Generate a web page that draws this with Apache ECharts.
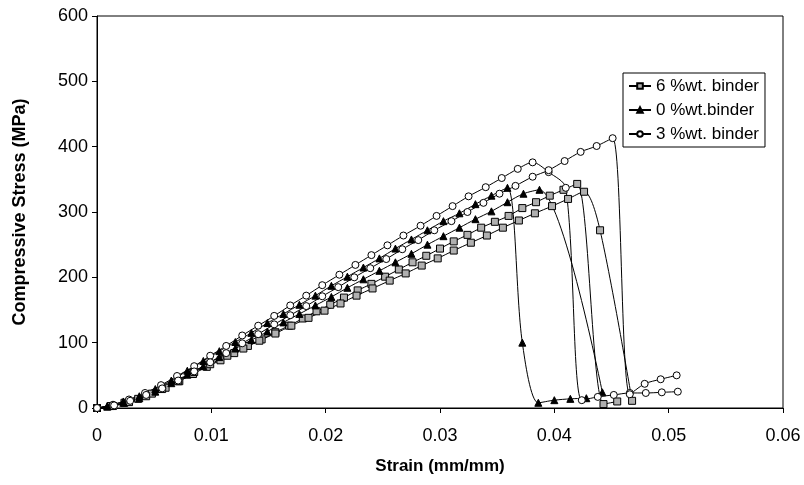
<!DOCTYPE html>
<html>
<head>
<meta charset="utf-8">
<script src="https://cdn.jsdelivr.net/npm/echarts@6/dist/echarts.min.js"></script>
<style>
  html, body { margin: 0; padding: 0; background: #fff; }
  #chart { width: 804px; height: 485px; }
</style>
</head>
<body>
<div id="chart"></div>
<script>
// 6 %wt. binder, two specimens (squares)
const sq1Strain = [0, 0.0012, 0.0024, 0.0036, 0.0048, 0.0060, 0.0072, 0.0084, 0.0096, 0.0108, 0.0120, 0.0132, 0.0144, 0.0156, 0.0168, 0.0180, 0.0192, 0.0204, 0.0216, 0.0228, 0.0240, 0.0252, 0.0264, 0.0276, 0.0288, 0.0300, 0.0312, 0.0324, 0.0336, 0.0348, 0.0360, 0.0372, 0.0384, 0.0396, 0.0408, 0.0420, 0.0443, 0.0455]
const sq1Stress = [0, 3, 8, 14, 22, 31, 41, 52, 63, 73, 84, 95, 105, 116, 126, 137, 148, 158, 169, 180, 190, 201, 212, 223, 233, 244, 255, 265, 276, 285, 294, 306, 315, 325, 334, 343, 6, 10]
const sq2Strain = [0, 0.0014, 0.0028, 0.0043, 0.0057, 0.0071, 0.0085, 0.0099, 0.0114, 0.0128, 0.0142, 0.0156, 0.0170, 0.0185, 0.0199, 0.0213, 0.0227, 0.0241, 0.0256, 0.0270, 0.0284, 0.0298, 0.0312, 0.0327, 0.0341, 0.0355, 0.0369, 0.0383, 0.0398, 0.0412, 0.0426, 0.0440, 0.0468]
const sq2Stress = [0, 3, 9, 18, 29, 41, 55, 67, 80, 91, 103, 114, 126, 138, 149, 160, 172, 183, 195, 206, 218, 229, 241, 253, 264, 276, 287, 298, 309, 320, 331, 272, 11]

// 0 %wt.binder (triangles)
const tr1Strain = [0, 0.0009, 0.0023, 0.0037, 0.0051, 0.0065, 0.0079, 0.0093, 0.0107, 0.0121, 0.0135, 0.0149, 0.0163, 0.0177, 0.0191, 0.0205, 0.0219, 0.0233, 0.0247, 0.0261, 0.0275, 0.0289, 0.0303, 0.0317, 0.0331, 0.0345, 0.0359, 0.0372, 0.0386, 0.0400, 0.0414, 0.0428]
const tr1Stress = [0, 3, 10, 18, 29, 42, 57, 72, 87, 101, 115, 130, 144, 158, 172, 187, 201, 215, 229, 244, 258, 272, 286, 298, 312, 325, 337, 100, 8, 12, 14, 15]
const tr2Strain = [0, 0.0009, 0.0023, 0.0037, 0.0051, 0.0065, 0.0079, 0.0093, 0.0107, 0.0121, 0.0135, 0.0149, 0.0163, 0.0177, 0.0191, 0.0205, 0.0219, 0.0233, 0.0247, 0.0261, 0.0275, 0.0289, 0.0303, 0.0317, 0.0331, 0.0345, 0.0359, 0.0373, 0.0387, 0.0442]
const tr2Stress = [0, 2, 8, 15, 25, 38, 51, 64, 78, 91, 104, 117, 131, 144, 157, 170, 184, 197, 210, 223, 236, 250, 263, 276, 289, 301, 315, 328, 334, 24]

// 3 %wt. binder (circles)
const ci1Strain = [0, 0.0014, 0.0028, 0.0042, 0.0056, 0.0070, 0.0085, 0.0099, 0.0113, 0.0127, 0.0141, 0.0155, 0.0169, 0.0183, 0.0197, 0.0212, 0.0226, 0.0240, 0.0254, 0.0268, 0.0283, 0.0297, 0.0311, 0.0325, 0.0340, 0.0354, 0.0368, 0.0381, 0.0395, 0.0410, 0.0424, 0.0438, 0.0452, 0.0466, 0.0480, 0.0494, 0.0508]
const ci1Stress = [0, 5, 13, 23, 35, 49, 64, 80, 95, 111, 126, 141, 157, 172, 188, 204, 219, 234, 249, 264, 279, 294, 309, 324, 338, 352, 366, 376, 361, 337, 12, 17, 20, 23, 23, 24, 25]
const ci2Strain = [0, 0.0015, 0.0029, 0.0043, 0.0057, 0.0071, 0.0085, 0.0099, 0.0113, 0.0127, 0.0141, 0.0155, 0.0169, 0.0183, 0.0197, 0.0211, 0.0225, 0.0239, 0.0253, 0.0267, 0.0281, 0.0295, 0.0310, 0.0324, 0.0338, 0.0352, 0.0366, 0.0381, 0.0395, 0.0409, 0.0423, 0.0437, 0.0451, 0.0466, 0.0479, 0.0493, 0.0507]
const ci2Stress = [0, 4, 11, 20, 30, 42, 56, 70, 84, 99, 113, 128, 142, 156, 171, 185, 200, 214, 228, 243, 257, 272, 286, 300, 314, 328, 340, 354, 364, 378, 392, 401, 413, 21, 37, 44, 50]

const legendNames = ['6 %wt. binder', '0 %wt.binder', '3 %wt. binder']

const FONT = 'Liberation Sans, Arial, sans-serif'

function zip(xs, ys) {
  return xs.map((x, i) => [x, ys[i]])
}

function curve(name, xs, ys, symbol, fill) {
  return {
    name: name,
    type: 'line',
    data: zip(xs, ys),
    smooth: 0.3,
    symbol: symbol,
    symbolSize: 7,
    lineStyle: { color: '#000', width: 1 },
    itemStyle: { color: fill, borderColor: '#000', borderWidth: 1 },
    emphasis: { disabled: true },
    animation: false
  }
}

const chart = echarts.init(document.getElementById('chart'))
chart.setOption({
  backgroundColor: '#fff',
  textStyle: { fontFamily: FONT },
  grid: {
    left: 97,
    right: 21,
    top: 16,
    bottom: 77,
    show: true,
    borderColor: '#000',
    borderWidth: 1
  },
  legend: {
    data: legendNames,
    orient: 'vertical',
    left: 623,
    top: 73,
    backgroundColor: '#fff',
    borderColor: '#000',
    borderWidth: 1,
    padding: [4, 6, 4, 5],
    itemGap: 6,
    itemWidth: 22,
    itemHeight: 7,
    textStyle: { fontFamily: FONT, fontSize: 17, color: '#000', lineHeight: 18 }
  },
  xAxis: {
    type: 'value',
    min: 0,
    max: 0.06,
    interval: 0.01,
    name: 'Strain (mm/mm)',
    nameLocation: 'middle',
    nameGap: 50,
    nameTextStyle: { fontFamily: FONT, fontSize: 17, fontWeight: 'bold', color: '#000' },
    axisLine: { lineStyle: { color: '#000', width: 1 } },
    axisTick: { show: true, length: 5, lineStyle: { color: '#000' } },
    axisLabel: { fontFamily: FONT, fontSize: 18, color: '#000', margin: 19 },
    splitLine: { show: false }
  },
  yAxis: {
    type: 'value',
    min: 0,
    max: 600,
    interval: 100,
    name: 'Compressive Stress (MPa)',
    nameLocation: 'middle',
    nameGap: 68,
    nameTextStyle: { fontFamily: FONT, fontSize: 18, fontWeight: 'bold', color: '#000' },
    axisLine: { show: true, lineStyle: { color: '#000', width: 1 } },
    axisTick: { show: true, length: 5, lineStyle: { color: '#000' } },
    axisLabel: { fontFamily: FONT, fontSize: 18, color: '#000', margin: 9 },
    splitLine: { show: false }
  },
  series: [
    curve(legendNames[0], sq1Strain, sq1Stress, 'rect', '#b0b0b0'),
    curve(legendNames[0], sq2Strain, sq2Stress, 'rect', '#b0b0b0'),
    curve(legendNames[1], tr1Strain, tr1Stress, 'triangle', '#000'),
    curve(legendNames[1], tr2Strain, tr2Stress, 'triangle', '#000'),
    curve(legendNames[2], ci1Strain, ci1Stress, 'circle', '#fff'),
    curve(legendNames[2], ci2Strain, ci2Stress, 'circle', '#fff')
  ]
})
</script>
</body>
</html>
